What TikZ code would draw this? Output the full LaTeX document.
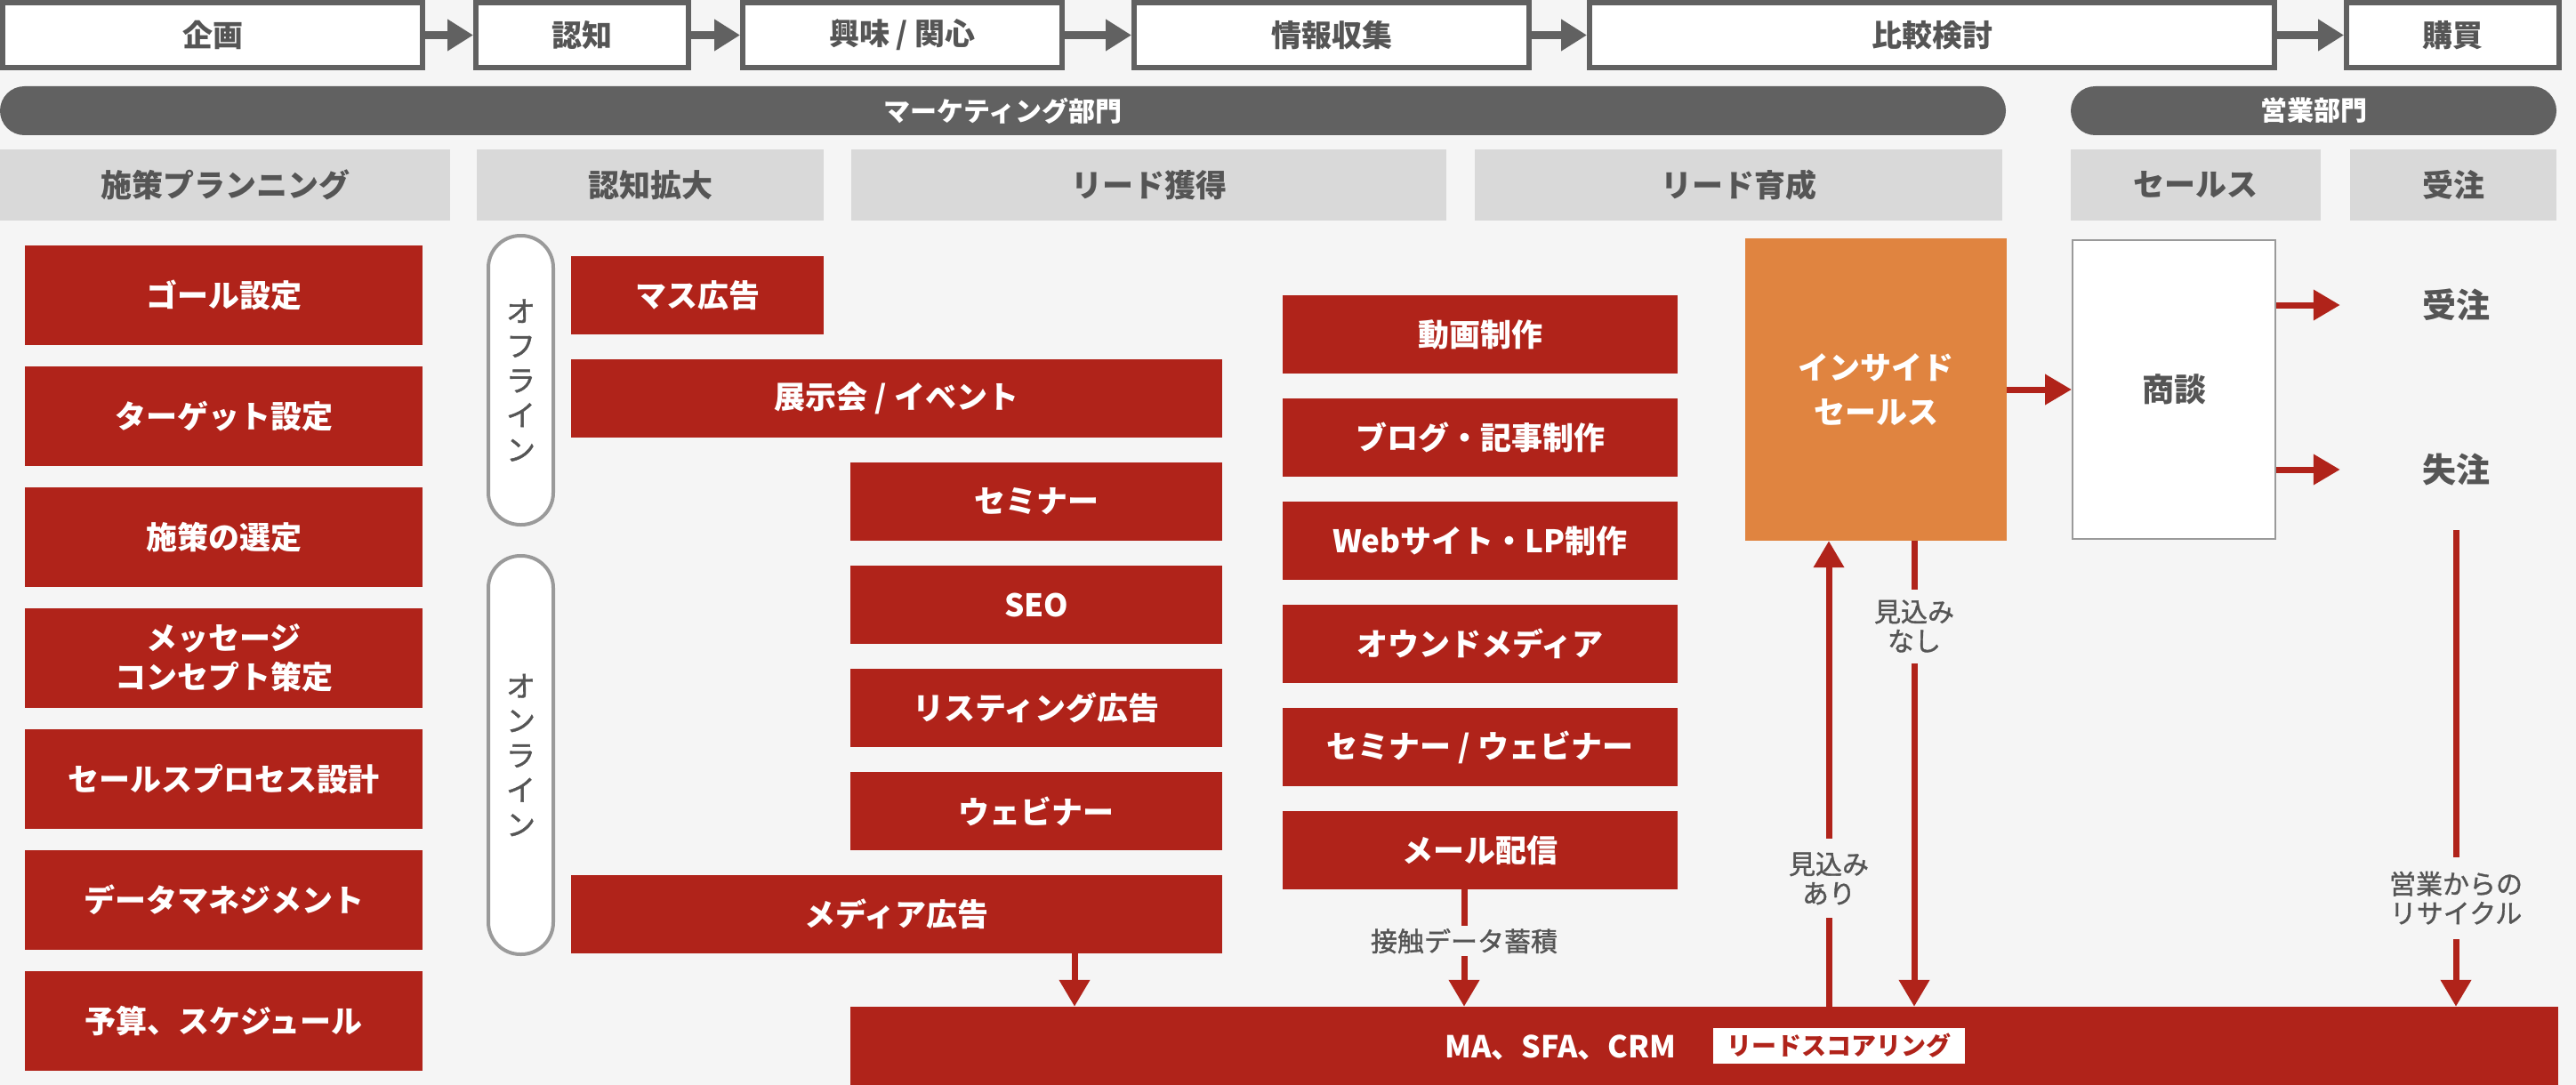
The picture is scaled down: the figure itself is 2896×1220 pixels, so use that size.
\documentclass[tikz,border=0pt]{standalone}
\usepackage{fontspec}
\setmainfont{Noto Sans CJK JP}
\newfontfamily\jpmed{Noto Sans CJK JP}[FakeBold=1.2]
\usetikzlibrary{arrows.meta}
\definecolor{bg}{HTML}{F5F5F5}
\definecolor{rd}{HTML}{B0231A}
\definecolor{og}{HTML}{E08440}
\definecolor{dg}{HTML}{616161}
\definecolor{hg}{HTML}{D9D9D9}
\definecolor{tg}{HTML}{555555}
\definecolor{pg}{HTML}{9A9A9A}
\newcommand\fsz[2]{\fontsize{#1pt}{#2pt}\selectfont}
\tikzset{
  topbox/.style={draw=dg,line width=6pt,fill=white,inner sep=0pt,text=tg,font=\fsz{34}{40}\bfseries,minimum height=73pt},
  garrow/.style={draw=dg,line width=9pt,-{Triangle[length=29pt,width=34pt]}},
  deptbar/.style={fill=dg,rounded corners=27.5pt,inner sep=0pt,text=white,font=\fsz{30}{36}\bfseries,minimum height=55pt},
  hdr/.style={fill=hg,inner sep=0pt,text=tg,font=\fsz{35}{42}\bfseries,minimum height=80pt},
  redbox/.style={fill=rd,inner sep=0pt,text=white,font=\fsz{35}{44}\bfseries,align=center},
  planbox/.style={redbox,minimum width=447pt,minimum height=112pt},
  awbox/.style={redbox,minimum height=88pt},
  midbox/.style={redbox,minimum width=444pt,minimum height=88pt},
  pill/.style={draw=pg,line width=4pt,fill=white,rounded corners=36pt,inner sep=0pt,text=tg,font=\jpmed\fsz{33}{39},align=center,minimum width=73pt},
  rarrow/.style={draw=rd,line width=7pt,-{Triangle[length=30pt,width=33pt]}},
  lbl/.style={text=tg,font=\jpmed\fsz{30}{33},align=center,fill=bg,inner xsep=4pt},
  result/.style={text=tg,font=\fsz{38}{44}\bfseries,inner sep=0pt,minimum width=260pt}
}
\begin{document}
\begin{tikzpicture}[x=1pt,y=-1pt]
\fill[bg] (0,0) rectangle (2896,1220);
\useasboundingbox (0,0) rectangle (2896,1220);

% top process row
\node[topbox,minimum width=472pt] (t1) at (239,39.5) {企画};
\node[topbox,minimum width=239pt] (t2) at (654.5,39.5) {認知};
\node[topbox,minimum width=359pt] (t3) at (1014.5,39.5) {興味 / 関心};
\node[topbox,minimum width=444pt] (t4) at (1497,39.5) {情報収集};
\node[topbox,minimum width=770pt] (t5) at (2172,39.5) {比較検討};
\node[topbox,minimum width=239pt] (t6) at (2757.5,39.5) {購買};
\draw[garrow] (t1.east) -- (t2.west);
\draw[garrow] (t2.east) -- (t3.west);
\draw[garrow] (t3.east) -- (t4.west);
\draw[garrow] (t4.east) -- (t5.west);
\draw[garrow] (t5.east) -- (t6.west);

% department bars
\node[deptbar,minimum width=2255pt] (mk) at (1127.5,124.5) {マーケティング部門};
\node[deptbar,minimum width=546pt] (sl) at (2601,124.5) {営業部門};

% headers
\node[hdr,minimum width=506pt] (h1) at (253,208) {施策プランニング};
\node[hdr,minimum width=390pt] (h2) at (731,208) {認知拡大};
\node[hdr,minimum width=669pt] (h3) at (1291.5,208) {リード獲得};
\node[hdr,minimum width=593pt] (h4) at (1954.5,208) {リード育成};
\node[hdr,minimum width=281pt] (h5) at (2468.5,208) {セールス};
\node[hdr,minimum width=232pt] (h6) at (2758,208) {受注};

% planning column
\node[planbox] (p1) at (251.5,332) {ゴール設定};
\node[planbox] (p2) at (251.5,468) {ターゲット設定};
\node[planbox] (p3) at (251.5,604) {施策の選定};
\node[planbox] (p4) at (251.5,740) {メッセージ\\コンセプト策定};
\node[planbox] (p5) at (251.5,876) {セールスプロセス設計};
\node[planbox] (p6) at (251.5,1012) {データマネジメント};
\node[planbox] (p7) at (251.5,1148) {予算、スケジュール};

% offline / online pills
\node[pill,minimum height=325pt] (off) at (585.5,427.5) {オ\\フ\\ラ\\イ\\ン};
\node[pill,minimum height=448pt] (on) at (585.5,849) {オ\\ン\\ラ\\イ\\ン};

% awareness / acquisition boxes
\node[awbox,minimum width=284pt] (a1) at (784,332) {マス広告};
\node[awbox,minimum width=732pt] (a2) at (1008,448) {展示会 / イベント};
\node[awbox,minimum width=418pt] (a3) at (1165,564) {セミナー};
\node[awbox,minimum width=418pt] (a4) at (1165,680) {SEO};
\node[awbox,minimum width=418pt] (a5) at (1165,796) {リスティング広告};
\node[awbox,minimum width=418pt] (a6) at (1165,912) {ウェビナー};
\node[awbox,minimum width=732pt] (md) at (1008,1028) {メディア広告};

% nurturing column
\node[midbox] (m1) at (1664,376) {動画制作};
\node[midbox] (m2) at (1664,492) {ブログ・記事制作};
\node[midbox] (m3) at (1664,608) {Webサイト・LP制作};
\node[midbox] (m4) at (1664,724) {オウンドメディア};
\node[midbox] (m5) at (1664,840) {セミナー / ウェビナー};
\node[midbox] (ml) at (1664,956) {メール配信};

% inside sales and deal
\node[fill=og,inner sep=0pt,minimum width=294pt,minimum height=340pt,text=white,font=\fsz{35}{50}\bfseries,align=center] (is) at (2109,438) {インサイド\\セールス};
\node[draw=pg,line width=2pt,fill=white,inner sep=0pt,minimum width=228pt,minimum height=336pt,text=tg,font=\fsz{36}{44}\bfseries] (sd) at (2444,438) {商談};
\node[result] (jc) at (2761,343) {受注};
\node[result,minimum height=136pt] (sc) at (2761,528) {失注};
\draw[rarrow] (is.east) -- (sd.west);
\draw[rarrow] (sd.east |- jc.west) -- (jc.west);
\draw[rarrow] (sd.east |- sc.west) -- (sc.west);

% MA bar
\node[fill=rd,inner sep=0pt,minimum width=1920pt,minimum height=90pt] (ma) at (1916,1177) {};
\node[text=white,font=\fsz{34}{40}\bfseries,inner sep=0pt] (matx) at (1754.5,1178) {MA、SFA、CRM};
\node[fill=white,text=rd,font=\fsz{28}{32}\bfseries,inner sep=0pt,minimum width=283pt,minimum height=40pt] (score) at (2067.5,1176) {リードスコアリング};

% connectors into MA bar
\draw[rarrow] ([xshift=200pt]md.south) -- ([xshift=200pt]md.south |- ma.north);
\draw[rarrow] ([xshift=-18pt]ml.south) -- node[lbl,pos=0.44,inner ysep=3pt]{接触データ蓄積} ([xshift=-18pt]ml.south |- ma.north);
\draw[rarrow] ([xshift=43pt]is.south) -- node[lbl,pos=0.183,inner ysep=12pt]{見込み\\なし} ([xshift=43pt]is.south |- ma.north);
\draw[rarrow] ([xshift=-53pt]is.south |- ma.north) -- node[lbl,pos=0.275,inner ysep=15pt]{見込み\\あり} ([xshift=-53pt]is.south);
\draw[rarrow] (sc.south) -- node[lbl,pos=0.772,inner ysep=16pt]{営業からの\\リサイクル} (sc.south |- ma.north);
\end{tikzpicture}
\end{document}
